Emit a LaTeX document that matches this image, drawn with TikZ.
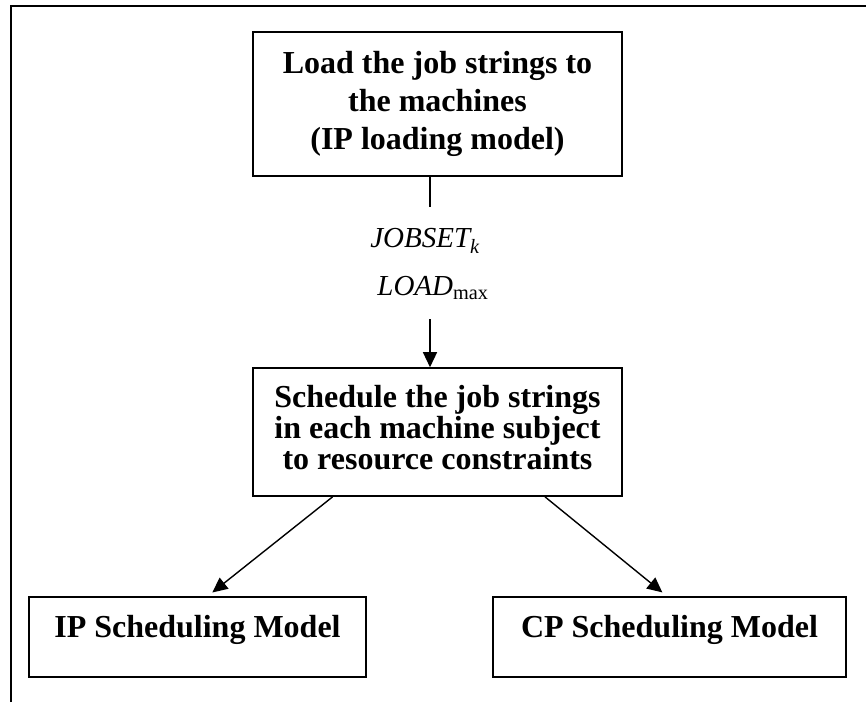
\documentclass[tikz,border=0pt]{standalone}
\usepackage{fontspec}
\setmainfont{Liberation Serif}
\usetikzlibrary{arrows.meta, positioning, calc}

\begin{document}
\begin{tikzpicture}[
    x=1pt, y=-1pt,
    every node/.style={font=\fontsize{32}{36}\selectfont\bfseries},
    stepbox/.style={draw, line width=1.6pt, align=center, inner sep=0pt},
    arrow/.style={-{Triangle[length=15pt, width=14pt]}, line width=1.4pt, shorten >=6pt},
    link/.style={line width=1.4pt},
    varlabel/.style={font=\fontsize{29}{30}\selectfont\itshape}
]
\useasboundingbox (0,0) rectangle (866,702);

% Outer frame (top and left edges only)
\draw[line width=2.4pt] (11,702) -- (11,6) -- (866,6);

% ============ LOADING MODEL ============
\node[stepbox, minimum width=369pt, minimum height=144pt,
      font=\fontsize{32}{38}\selectfont\bfseries] (load) at (437.5,104)
    {Load the job strings to\\the machines\\(IP loading model)};

% Values passed on
\node[varlabel] (jobset) at (425,241) {JOBSET\textsubscript{k}};
\node[varlabel] (loadmax) at (433,288) {LOAD\textsubscript{\upshape max}};

% ============ SCHEDULING ============
\node[stepbox, minimum width=369pt, minimum height=128pt,
      font=\fontsize{32}{31}\selectfont\bfseries] (sched) at (437.5,432)
    {Schedule the job strings\\in each machine subject\\to resource constraints\rule[-10pt]{0pt}{10pt}};

\node[stepbox, minimum width=337pt, minimum height=80pt] (ipmodel) at (197.5,637)
    {IP Scheduling Model\rule[-22pt]{0pt}{22pt}};
\node[stepbox, minimum width=353pt, minimum height=80pt] (cpmodel) at (669.5,637)
    {CP Scheduling Model\rule[-22pt]{0pt}{22pt}};

% Connectors
\coordinate (stem) at (430,207);
\coordinate (drop) at (430,319);
\draw[link] (load.south -| stem) -- (stem);
\draw[arrow, shorten >=0pt] (drop) -- (sched.north -| drop);
\draw[arrow] ($(sched.south west)!0.217!(sched.south east)$) -- ($(ipmodel.north west)!0.53!(ipmodel.north east)$);
\draw[arrow] ($(sched.south west)!0.79!(sched.south east)$) -- ($(cpmodel.north west)!0.493!(cpmodel.north east)$);

\end{tikzpicture}
\end{document}
